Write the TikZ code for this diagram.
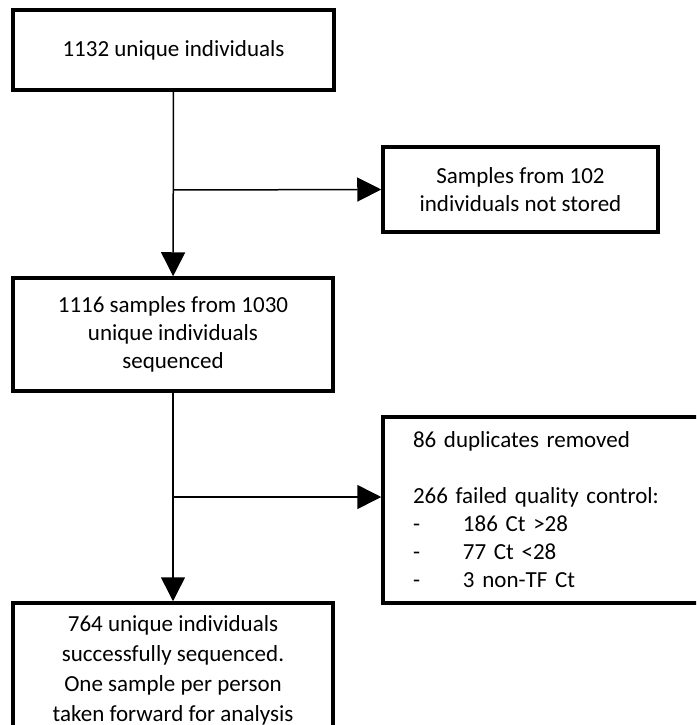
\documentclass[tikz,border=0pt]{standalone}
\usepackage{fontspec}
\setmainfont{Carlito}
\usetikzlibrary{arrows.meta}

\begin{document}
\begin{tikzpicture}
        [x=1pt, y=-1pt,
         stage/.style={rectangle, draw=black, line width=3.5pt, align=center, inner sep=0pt,
                       font=\fontsize{23}{28}\selectfont},
         excluded/.style={stage, align=left, inner xsep=30pt},
         flow/.style={line width=1.5pt, -{Triangle[length=24pt, width=24pt]}}]
        \clip (0,0) rectangle (696,725);
        \path node (total) at (173.5,50) [stage, minimum width=321pt, minimum height=80pt] {1132 unique individuals}
              node (notstored) at (520.5,189.5) [stage, minimum width=275pt, minimum height=85pt] {Samples from 102\\individuals not stored}
              node (sequenced) at (173,334.5) [stage, minimum width=320pt, minimum height=113pt] {1116 samples from 1030\\unique individuals\\sequenced}
              node (removed) at (553,510) [excluded, text width=280pt, minimum height=186pt]
                {86 duplicates removed\\[28pt]
                 266 failed quality control:\\
                 \makebox[50pt][l]{-}186 Ct >28\\
                 \makebox[50pt][l]{-}77 Ct <28\\
                 \makebox[50pt][l]{-}3 non-TF Ct}
              node (final) at (173,670) [stage, minimum width=320pt, minimum height=134pt,
                                         font=\fontsize{23}{30}\selectfont]
                {764 unique individuals\\successfully sequenced.\\One sample per person\\taken forward for analysis};
        \coordinate (split1) at (173,190);
        \coordinate (split2) at (173,497);
        \draw [flow] (total) -- (sequenced);
        \draw [flow] (split1) -- (notstored.west);
        \draw [flow] (sequenced) -- (final);
        \draw [flow] (split2) -- (split2 -| removed.west);
\end{tikzpicture}
\end{document}
